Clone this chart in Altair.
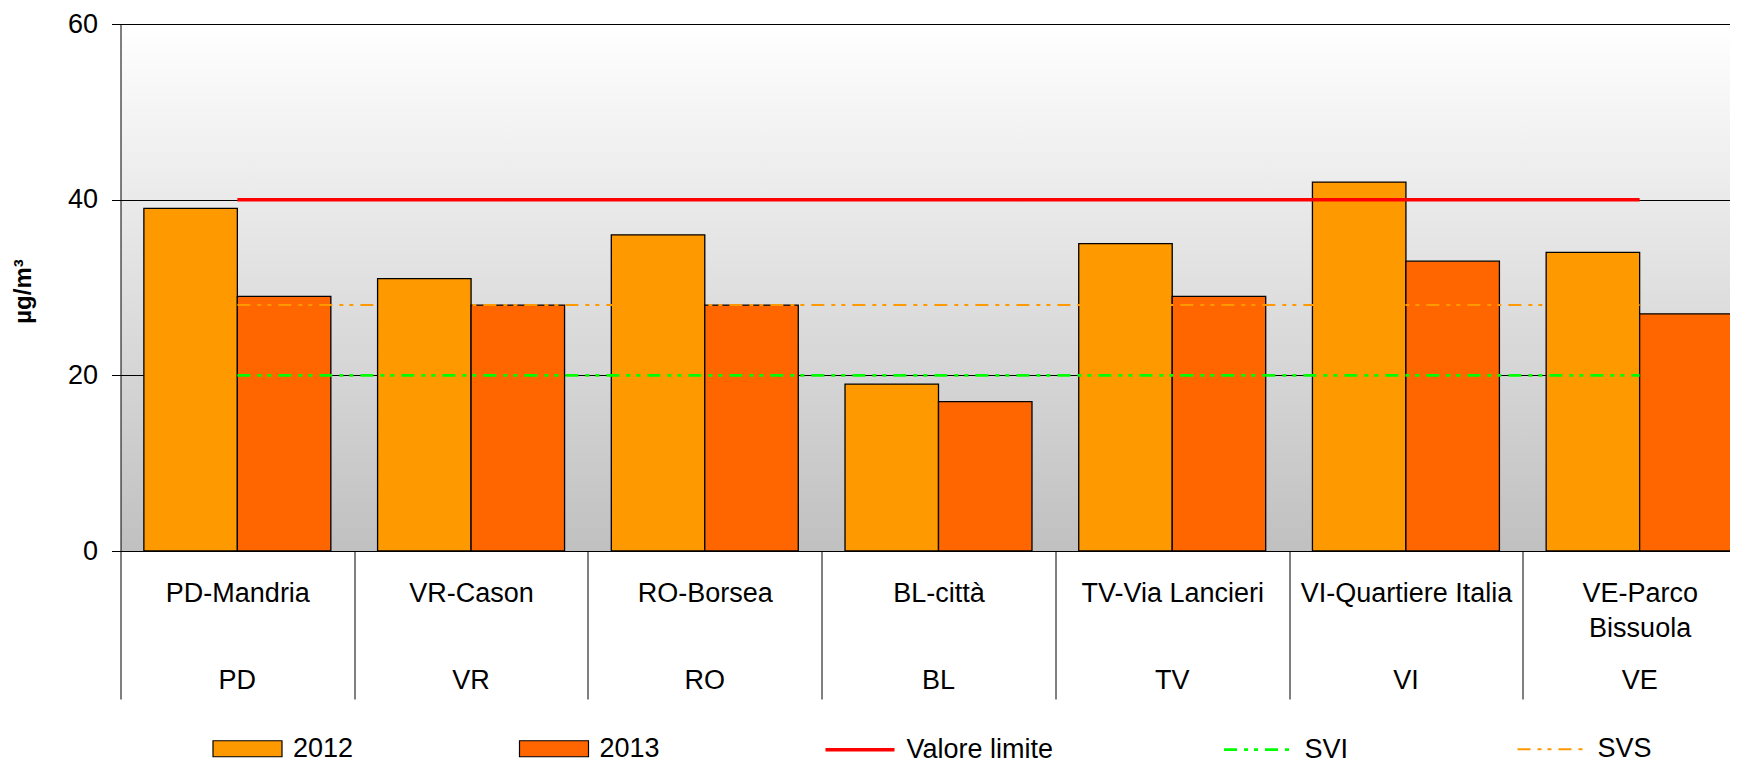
import altair as alt
import pandas as pd

# ---------------- data ----------------
STATIONS = ["PD-Mandria", "VR-Cason", "RO-Borsea", "BL-città",
            "TV-Via Lancieri", "VI-Quartiere Italia", "VE-Parco Bissuola"]
PROVINCES = ["PD", "VR", "RO", "BL", "TV", "VI", "VE"]
YEARS = ["2012", "2013"]
VALUES_2012 = [39, 31, 36, 19, 35, 42, 34]
VALUES_2013 = [29, 28, 28, 17, 29, 33, 27]
LINE_SERIES = ["Valore limite", "SVI", "SVS"]
VALORE_LIMITE = [40, 40, 40, 40, 40, 40, 40]
SVI = [20, 20, 20, 20, 20, 20, 20]
SVS = [28, 28, 28, 28, 28, 28, 28]
Y_TICKS = [0, 20, 40, 60]

BAR_COLORS = ["#FF9900", "#FF6600"]
LINE_COLORS = ["#FF0000", "#00FF00", "#FF9900"]

bar_rows = []
for i, st in enumerate(STATIONS):
    bar_rows.append({"station": st, "year": YEARS[0], "value": VALUES_2012[i]})
    bar_rows.append({"station": st, "year": YEARS[1], "value": VALUES_2013[i]})
bar_df = pd.DataFrame(bar_rows)

line_rows = []
for name, vals in zip(LINE_SERIES, [VALORE_LIMITE, SVI, SVS]):
    for i, st in enumerate(STATIONS):
        line_rows.append({"station": st, "series": name, "value": vals[i], "idx": i})
line_df = pd.DataFrame(line_rows)

prov_df = pd.DataFrame({"station": STATIONS, "province": PROVINCES})

# ---------------- style ----------------
FONT = "Liberation Sans"
FS = 27
W = 1636
H = 527

x_scale = alt.Scale(domain=STATIONS, paddingInner=0, paddingOuter=0)
y_scale = alt.Scale(domain=[0, 60], nice=False, zero=True)

x_axis = alt.Axis(
    title=None, grid=False, domainColor="black", domainWidth=1,
    tickColor="black", tickWidth=1, tickSize=148, tickBand="extent",
    labelFontSize=FS, labelFont=FONT, labelColor="black", labelAngle=0,
    labelPadding=-98, labelBaseline="alphabetic", labelLimit=400,
    labelOverlap=False, labelLineHeight=35,
    labelExpr="datum.label == 'VE-Parco Bissuola' ? ['VE-Parco', 'Bissuola'] : datum.label",
)

y_axis = alt.Axis(
    values=Y_TICKS, title="µg/m³", titleFontSize=24, titleFontWeight="bold",
    titleFont=FONT, titleColor="black", titleAngle=270, titleX=-90, titleY=267,
    titleBaseline="alphabetic", titleAlign="center",
    domainColor="black", tickColor="black", tickSize=9,
    labelFontSize=FS, labelFont=FONT, labelColor="black", labelPadding=14,
    grid=True, gridColor="black", gridWidth=1, gridOpacity=1,
)

bar_legend = alt.Legend(
    title=None, orient="none", legendX=91.5, legendY=689, direction="horizontal",
    symbolType="M-1,-0.232H1V0.232H-1Z", symbolSize=4761,
    symbolStrokeColor="black", symbolStrokeWidth=1.2,
    labelFontSize=FS, labelFont=FONT, labelColor="black", labelOffset=10,
    columnPadding=162.5, padding=0,
)

line_legend = alt.Legend(
    title=None, orient="none", legendX=703, legendY=689, direction="horizontal",
    symbolType="stroke", symbolSize=4761, symbolStrokeWidth=2.5,
    labelFontSize=FS, labelFont=FONT, labelColor="black", labelOffset=10,
    columnPadding=165, padding=0,
)

bars = alt.Chart(bar_df).mark_bar(stroke="black", strokeWidth=1.3).encode(
    x=alt.X("station:N", scale=x_scale, axis=x_axis, sort=STATIONS),
    xOffset=alt.XOffset("year:N", scale=alt.Scale(domain=YEARS, paddingInner=0, paddingOuter=0.25)),
    y=alt.Y("value:Q", scale=y_scale, axis=y_axis),
    fill=alt.Fill("year:N", scale=alt.Scale(domain=YEARS, range=BAR_COLORS), legend=bar_legend),
)

DASH = [13, 7, 4, 6, 4, 7]
lines = alt.Chart(line_df).mark_line(strokeCap="butt").encode(
    x=alt.X("station:N", scale=x_scale, sort=STATIONS),
    y=alt.Y("value:Q", scale=y_scale),
    stroke=alt.Stroke("series:N", scale=alt.Scale(domain=LINE_SERIES, range=LINE_COLORS), legend=line_legend),
    strokeDash=alt.StrokeDash("series:N", scale=alt.Scale(domain=LINE_SERIES, range=[[1, 0], DASH, DASH]), legend=line_legend),
    strokeWidth=alt.StrokeWidth("series:N", scale=alt.Scale(domain=LINE_SERIES, range=[3.5, 2, 2]), legend=None),
    order=alt.Order("idx:Q"),
)

prov = alt.Chart(prov_df).mark_text(
    fontSize=FS, font=FONT, color="black", baseline="alphabetic", align="center"
).encode(
    x=alt.X("station:N", scale=x_scale, sort=STATIONS),
    y=alt.value(H + 138),
    text="province:N",
)

GRADIENT_EXPR = ("{gradient: 'linear', x1: 0, y1: 0, x2: 0, y2: 1, "
                 "stops: [{offset: 0, color: '#ffffff'}, {offset: 1, color: '#c0c0c0'}]}")

chart = alt.layer(bars, lines, prov).properties(
    width=W, height=H,
    title=alt.Title("Stazioni di fondo", fontSize=34, font=FONT, fontWeight="bold",
                    color="black", anchor="middle", offset=8),
    autosize=alt.AutoSizeParams(type="none"),
    padding={"left": 112.5, "top": 16, "right": -26.5, "bottom": 212},
    view=alt.ViewBackground(fill=alt.ExprRef(expr=GRADIENT_EXPR), stroke="transparent"),
).configure(font=FONT)

chart.save("out.html", embed_options={"renderer": "svg", "actions": False})
